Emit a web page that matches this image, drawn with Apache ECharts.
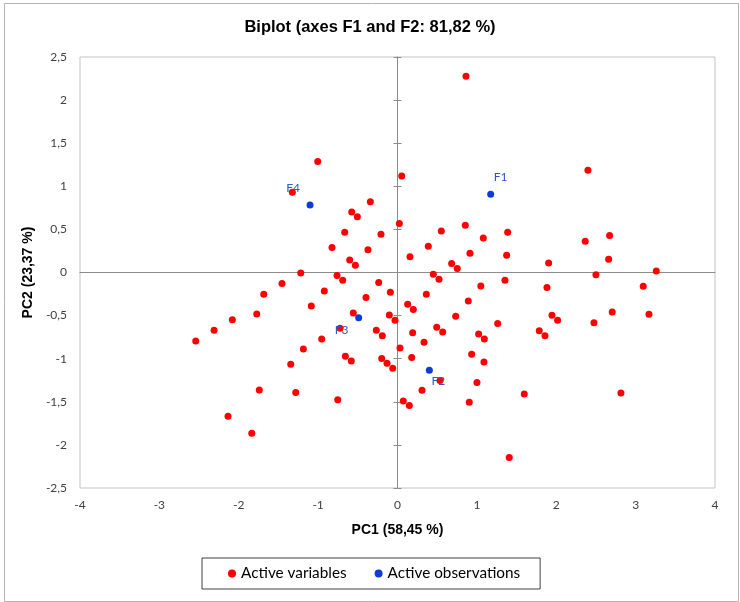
<!DOCTYPE html>
<html>
<head>
<meta charset="utf-8">
<script src="https://cdn.jsdelivr.net/npm/echarts@6/dist/echarts.min.js"></script>
<style>html,body{margin:0;padding:0;background:#fff}#c{width:740px;height:602px}</style>
</head>
<body>
<div id="c"></div>
<script>
// ---- data ----
const variablesPC1 = [0.863,-1.005,-1.325,0.053,-0.342,-0.577,-0.506,-0.665,-0.208,0.023,0.552,0.854,0.388,1.081,0.913,0.682,0.753,0.157,-0.825,-0.372,-0.602,-0.531,-1.219,2.399,1.388,1.375,1.904,2.365,2.672,2.66,2.5,3.26,1.354,1.05,1.883,3.096,1.262,1.946,2.017,1.786,1.858,2.475,2.705,3.168,1.094,1.022,1.089,0.934,1.597,2.815,1.408,-1.455,-0.762,-0.69,-0.237,0.451,0.523,-1.685,-0.922,-0.09,0.363,-0.397,-1.773,-1.086,-0.557,-0.724,-0.103,-0.031,0.128,0.199,0.892,0.733,0.494,0.569,-0.267,-0.191,0.191,0.334,-0.955,-1.186,0.031,-0.657,-0.582,-0.199,-0.132,-0.06,0.179,-1.345,0.535,1.001,-1.741,-1.282,-0.753,0.309,0.073,0.149,0.904,-1.836,-2.081,-2.311,-2.542,-2.135];
const variablesPC2 = [2.276,1.287,0.93,1.12,0.822,0.702,0.648,0.466,0.443,0.567,0.481,0.548,0.304,0.4,0.223,0.103,0.045,0.184,0.289,0.265,0.145,0.083,-0.005,1.186,0.466,0.2,0.11,0.362,0.428,0.153,-0.025,0.018,-0.09,-0.157,-0.175,-0.16,-0.593,-0.497,-0.555,-0.675,-0.733,-0.582,-0.458,-0.485,-0.771,-0.713,-1.038,-0.949,-1.41,-1.398,-2.147,-0.129,-0.036,-0.09,-0.117,-0.021,-0.079,-0.253,-0.214,-0.23,-0.253,-0.291,-0.481,-0.388,-0.469,-0.647,-0.493,-0.555,-0.369,-0.43,-0.331,-0.508,-0.636,-0.69,-0.671,-0.733,-0.698,-0.81,-0.771,-0.887,-0.876,-0.972,-1.026,-0.999,-1.053,-1.111,-0.987,-1.065,-1.254,-1.277,-1.363,-1.393,-1.475,-1.367,-1.491,-1.544,-1.506,-1.866,-0.547,-0.671,-0.794,-1.668];
const observationNames = ['F1','F2','F3','F4'];
const observationsPC1 = [1.174, 0.401, -0.489, -1.102];
const observationsPC2 = [0.907, -1.135, -0.524, 0.783];
const seriesNames = ['Active variables','Active observations'];
const xTicks = {min:-4, max:4, step:1};
const yTicks = {min:-2.5, max:2.5, step:0.5};

// ---- styling (label placement per observation) ----
const labelOffsets = {F1:[10,-17], F2:[9,11], F3:[-17,12], F4:[-17,-17]};

const fmt = v => String(v).replace('.', ',');
const tickFont = {fontFamily:'Lato', fontSize:12, color:'#404040'};

const chart = echarts.init(document.getElementById('c'), null, {renderer:'canvas'});
const grid = {left:80, right:25, top:57, bottom:114, show:true, borderColor:'#c4c4c4', borderWidth:1, backgroundColor:'transparent'};

function xAxisBase(extra){
  return Object.assign({type:'value', min:xTicks.min, max:xTicks.max, interval:xTicks.step, splitLine:{show:false}}, extra);
}
function yAxisBase(extra){
  return Object.assign({type:'value', min:yTicks.min, max:yTicks.max, interval:yTicks.step, splitLine:{show:false}}, extra);
}

const option = {
  animation:false,
  backgroundColor:'#fff',
  title:{text:'Biplot (axes F1 and F2: 81,82 %)', left:'center', top:14,
    textStyle:{fontFamily:'Liberation Sans', fontWeight:'bold', fontSize:16.5, color:'#000'}},
  grid:grid,
  legend:{data:seriesNames, left:202, top:558, orient:'horizontal',
    borderColor:'#404040', borderWidth:1, padding:[8,20,8,26], itemGap:28,
    itemWidth:8, itemHeight:8, icon:'circle',
    textStyle:{fontFamily:'Lato', fontSize:15.3, color:'#000'}},
  xAxis:[
    xAxisBase({position:'bottom', name:'PC1 (58,45 %)', nameLocation:'middle', nameGap:35,
      nameTextStyle:{fontFamily:'Liberation Sans', fontWeight:'bold', fontSize:14, color:'#000'},
      axisLine:{show:false, onZero:false}, axisTick:{show:false},
      axisLabel:Object.assign({margin:11, formatter:fmt}, tickFont)}),
    xAxisBase({position:'bottom', axisLine:{show:true, onZero:true, onZeroAxisIndex:0, lineStyle:{color:'#8c8c8c', width:1}},
      axisTick:{show:false}, axisLabel:{show:false}})
  ],
  yAxis:[
    yAxisBase({position:'left', name:'PC2 (23,37 %)', nameLocation:'middle', nameGap:40,
      nameTextStyle:{fontFamily:'Liberation Sans', fontWeight:'bold', fontSize:14, color:'#000'},
      axisLine:{show:false, onZero:false}, axisTick:{show:false},
      axisLabel:Object.assign({margin:13, formatter:fmt}, tickFont)}),
    yAxisBase({position:'left', axisLine:{show:true, onZero:true, onZeroAxisIndex:0, lineStyle:{color:'#8c8c8c', width:1}},
      axisTick:{show:true, length:4, inside:false, lineStyle:{color:'#8c8c8c'}}, axisLabel:{show:false}}),
    yAxisBase({position:'left', axisLine:{show:false, onZero:true, onZeroAxisIndex:0},
      axisTick:{show:true, length:4, inside:true, lineStyle:{color:'#8c8c8c'}}, axisLabel:{show:false}})
  ],
  series:[
    {name:seriesNames[0], type:'scatter', xAxisIndex:0, yAxisIndex:0, symbolSize:7,
      itemStyle:{color:'#ff0000', opacity:1},
      data:variablesPC1.map((x,i)=>[x, variablesPC2[i]])},
    {name:seriesNames[1], type:'scatter', xAxisIndex:0, yAxisIndex:0, symbolSize:7, z:3,
      itemStyle:{color:'#0a3cd6', opacity:1},
      label:{show:true, formatter:p=>p.name, color:'#3356c8', fontFamily:'Lato', fontSize:12},
      data:observationNames.map((n,i)=>({name:n, value:[observationsPC1[i], observationsPC2[i]],
        label:{position:'inside', offset:labelOffsets[n]}}))}
  ],
  graphic:[{type:'rect', left:2, top:1, shape:{x:0,y:0,width:734,height:598}, silent:true, z:-10,
    style:{fill:'none', stroke:'#b4b4b4', lineWidth:1}}]
};
chart.setOption(option);
</script>
</body>
</html>
